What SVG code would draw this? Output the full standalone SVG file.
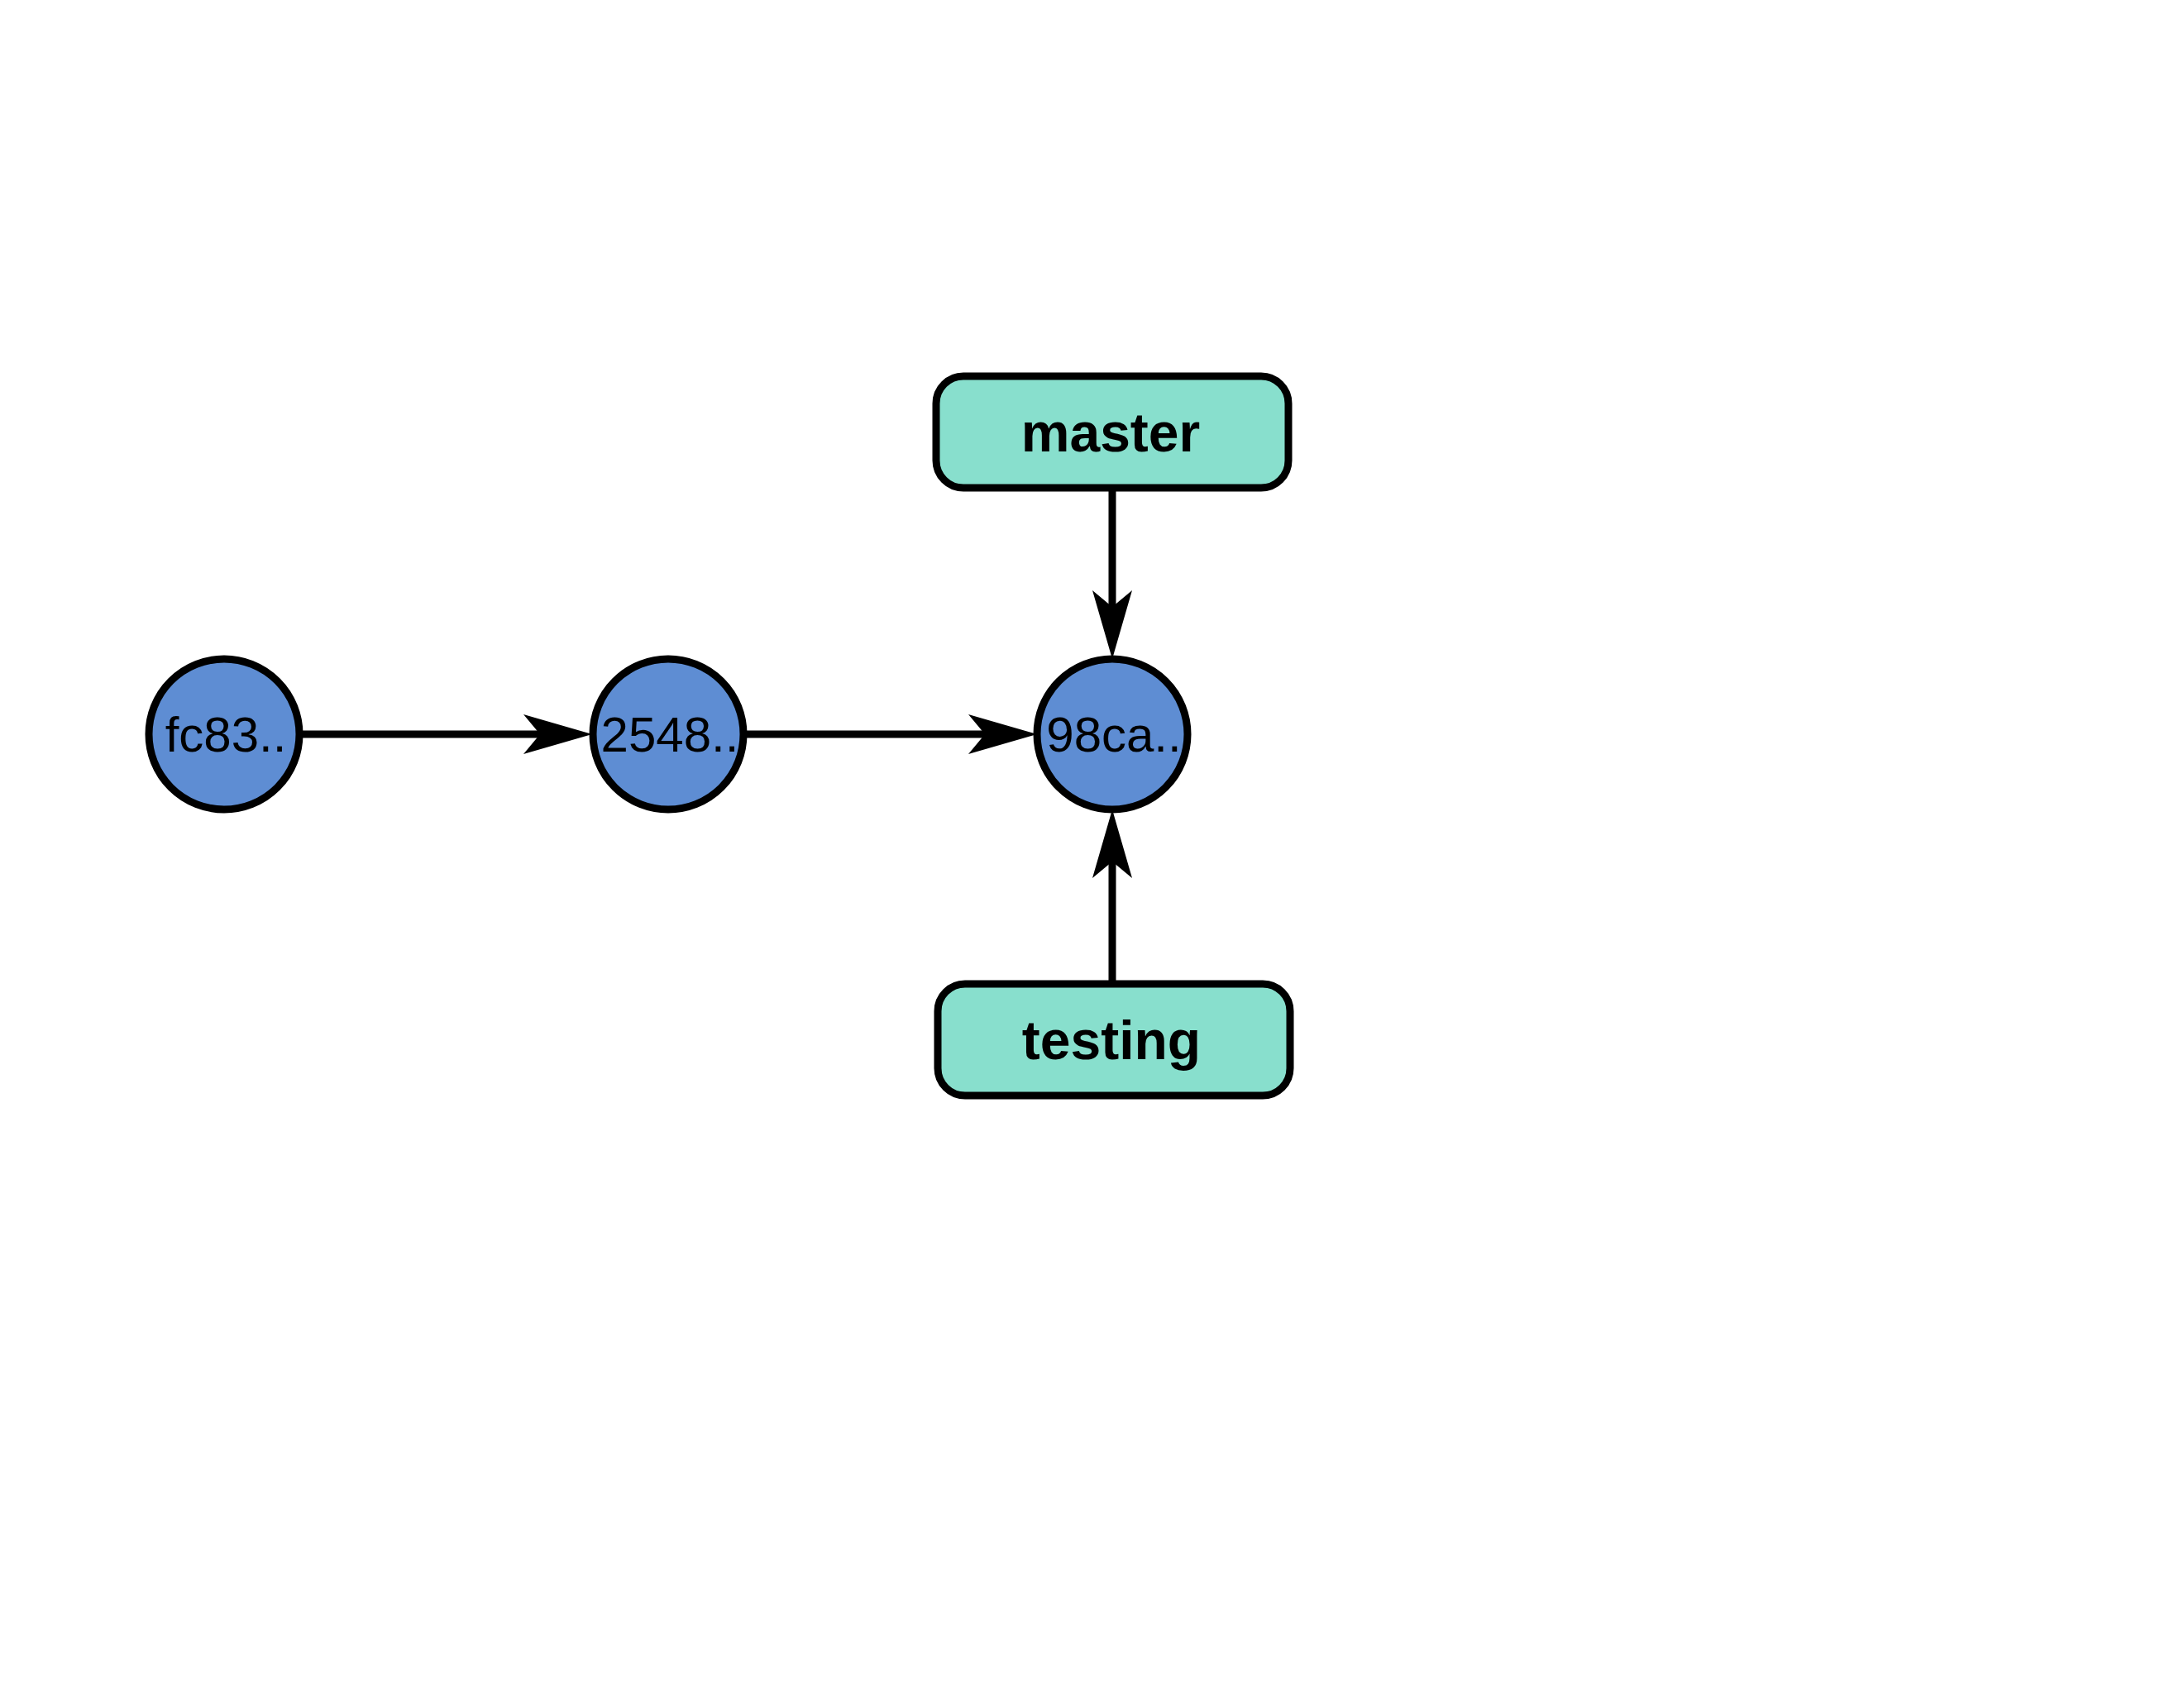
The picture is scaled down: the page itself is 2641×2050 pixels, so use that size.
<svg xmlns="http://www.w3.org/2000/svg" width="2641" height="2050" viewBox="0 0 2641 2050">
<style>
.commit{fill:#5e8dd3;stroke:#000;stroke-width:9}
.branch{fill:#88dfcd;stroke:#000;stroke-width:9}
.ctext{font-family:"Liberation Sans",Arial,sans-serif;font-size:60px;fill:#000;text-anchor:middle}
.btext{font-family:"Liberation Sans",Arial,sans-serif;font-size:66px;font-weight:bold;fill:#000;text-anchor:middle}
.edge{stroke:#000;stroke-width:9;fill:none;marker-end:url(#arrow)}
</style>
<defs>
<marker id="arrow" markerUnits="userSpaceOnUse" viewBox="-25 -30 95 60" refX="0" refY="0" markerWidth="95" markerHeight="60" orient="auto">
<path d="M63,0 L-20,-24 L0,0 L-20,24 Z" fill="#000"/>
</marker>
</defs>
<rect width="2641" height="2050" fill="#fff"/>
<g id="connectors">
<line class="edge" x1="362" y1="888" x2="653" y2="888"/>
<line class="edge" x1="899" y1="888" x2="1191" y2="888"/>
<line class="edge" x1="1345" y1="591" x2="1345" y2="734"/>
<line class="edge" x1="1345" y1="1189" x2="1345" y2="1042"/>
</g>
<g id="node-fc83">
<circle class="commit" cx="271" cy="888" r="91"/>
<text class="ctext" x="273" y="909">fc83..</text>
</g>
<g id="node-2548">
<circle class="commit" cx="808" cy="888" r="91"/>
<text class="ctext" x="810" y="909">2548..</text>
</g>
<g id="node-98ca">
<circle class="commit" cx="1345" cy="888" r="91"/>
<text class="ctext" x="1347" y="909">98ca..</text>
</g>
<g id="node-master">
<rect class="branch" x="1132" y="455" width="426" height="135" rx="33" ry="33"/>
<text class="btext" x="1343" y="546">master</text>
</g>
<g id="node-testing">
<rect class="branch" x="1134" y="1190" width="426" height="135" rx="33" ry="33"/>
<text class="btext" x="1344" y="1281">testing</text>
</g>
</svg>
